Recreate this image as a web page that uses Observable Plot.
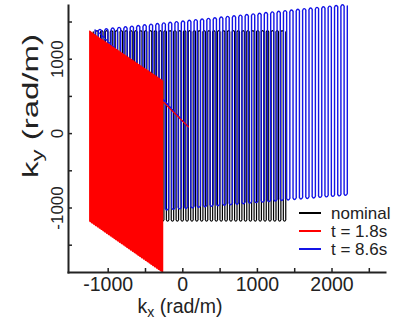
<!DOCTYPE html>
<html><head><meta charset="utf-8">
<script src="https://cdn.jsdelivr.net/npm/d3@7"></script>
<script src="https://cdn.jsdelivr.net/npm/@observablehq/plot@0.6"></script>
<style>
body{margin:0;background:#fff;font-family:"Liberation Sans",Arial,sans-serif;}
#wrap{position:relative;width:409px;height:322px;overflow:hidden;}
#wrap svg{position:absolute;left:0;top:0;}
</style></head><body><div id="wrap"></div>
<script>
// ---- data ----
const series = ["nominal", "t = 1.8s", "t = 8.6s"];
const colors = ["#000000", "#ff0000", "#1414e6"];
const lineCount = [80, 80, 80];             // readout lines per trajectory
const kxFirst = [-1200, -1248, -1175];      // kx of first readout line
const kxLast = [1380, -270, 2205];          // kx of last readout line
const kyTopFirst = [1385, 1378, 1395];      // top turn ky at first line
const kyTopLast = [1385, 714, 1738];        // top turn ky at last line
const kyBottomFirst = [-1176, -1180, -1105];// bottom turn ky at first line
const kyBottomLast = [-1176, -1865, -828];  // bottom turn ky at last line
const preKx = [null, 75, 75];               // prephaser start (kx)
const preKy = [null, 90, 90];               // prephaser start (ky)
const xTickLabels = [-1000, 0, 1000, 2000];
const yTickLabels = [-1000, 0, 1000];
const xTicks = [-1000, -500, 0, 500, 1000, 1500, 2000, 2500];
const yTicks = [-1500, -1000, -500, 0, 500, 1000, 1500];
const xDomain = [-1532, 2717];
const yDomain = [-1867, 1722];

// ---- build trajectory vertices from the read envelope ----
function trajectory(s) {
  const name = series[s], n = lineCount[s];
  const dx = (kxLast[s] - kxFirst[s]) / (n - 1);
  const h = dx / 2;
  const at = (a, b, f) => a + f * (b - a);
  const pts = [];
  if (preKx[s] != null) {
    pts.push({series: name, kx: preKx[s], ky: preKy[s]});
    pts.push({series: name, kx: kxFirst[s], ky: kyTopFirst[s]});
  }
  for (let i = 0; i < n; i++) {
    const f = i / (n - 1);
    const x = at(kxFirst[s], kxLast[s], f);
    const top = at(kyTopFirst[s], kyTopLast[s], f);
    const bot = at(kyBottomFirst[s], kyBottomLast[s], f);
    const down = i % 2 === 0;
    const ys = down ? [top - h, top - 2 * h, bot + 2 * h, bot + h] : [bot + h, bot + 2 * h, top - 2 * h, top - h];
    ys.forEach(y => pts.push({series: name, kx: x, ky: y}));
    if (i < n - 1) {
      const f2 = (i + 0.5) / (n - 1);
      const capY = down ? at(kyBottomFirst[s], kyBottomLast[s], f2) : at(kyTopFirst[s], kyTopLast[s], f2);
      pts.push({series: name, kx: x + dx / 2, ky: capY});
    }
  }
  return pts;
}

const W = 409, H = 322, mL = 68, mR = 24, mT = 5, mB = 50;
const plotW = W - mL - mR, plotH = H - mT - mB;
const widths = [1.2, 1.2, 1.4];
const order = [0, 2, 1];
const ink = "#222";
const fmt = d => String(d);

const chart = Plot.plot({
  width: W, height: H,
  marginLeft: mL, marginRight: mR, marginTop: mT, marginBottom: mB,
  x: {domain: xDomain},
  y: {domain: yDomain},
  style: {fontFamily: "'Liberation Sans', Arial, sans-serif", color: ink, background: "white", overflow: "visible"},
  marks: [
    ...order.map(s => Plot.line(trajectory(s), {x: "kx", y: "ky", stroke: colors[s], strokeWidth: widths[s], curve: "catmull-rom"})),
    Plot.ruleX(xTicks, {x: d => d, insetTop: plotH - 4, stroke: ink, strokeWidth: 1.5}),
    Plot.ruleY(yTicks, {y: d => d, insetRight: plotW - 4, stroke: ink, strokeWidth: 1.5}),
    Plot.axisX(xTickLabels, {tickSize: 0, tickPadding: 5, fontSize: 19.5, label: null, fill: ink, tickFormat: fmt}),
    Plot.axisY(yTickLabels, {tickSize: 0, tickPadding: 6, tickRotate: -90, fontSize: 17, label: null, fill: ink, tickFormat: fmt}),
    Plot.frame({anchor: "left", stroke: ink, strokeWidth: 2}),
    Plot.frame({anchor: "bottom", stroke: ink, strokeWidth: 2})
  ]
});
document.getElementById("wrap").appendChild(chart);

// ---- overlay: axis titles with subscripts and legend ----
const ov = d3.select("#wrap").append("svg").attr("width", W).attr("height", H)
  .style("pointer-events", "none")
  .style("font-family", "'Liberation Sans', Arial, sans-serif").style("fill", ink);

const xt = ov.append("text").attr("x", 180).attr("y", 313).attr("text-anchor", "middle").attr("font-size", 19.5);
xt.append("tspan").text("k");
xt.append("tspan").attr("dy", 4).attr("font-size", 14).text("x");
xt.append("tspan").attr("dy", -4).text(" (rad/m)");

const yt = ov.append("text").attr("transform", "translate(38,106) rotate(-90) scale(1.5,1)").attr("text-anchor", "middle").attr("font-size", 22);
yt.append("tspan").text("k");
yt.append("tspan").attr("dy", 5).attr("font-size", 16).text("y");
yt.append("tspan").attr("dy", -5).text(" (rad/m)");

const legendY = [213, 231, 249];
series.forEach((name, s) => {
  ov.append("line").attr("x1", 299).attr("x2", 321).attr("y1", legendY[s]).attr("y2", legendY[s])
    .attr("stroke", colors[s]).attr("stroke-width", 2);
  ov.append("text").attr("x", 331).attr("y", legendY[s]).attr("dy", "0.35em")
    .attr("font-size", 17).text(name);
});
</script>
</body></html>
